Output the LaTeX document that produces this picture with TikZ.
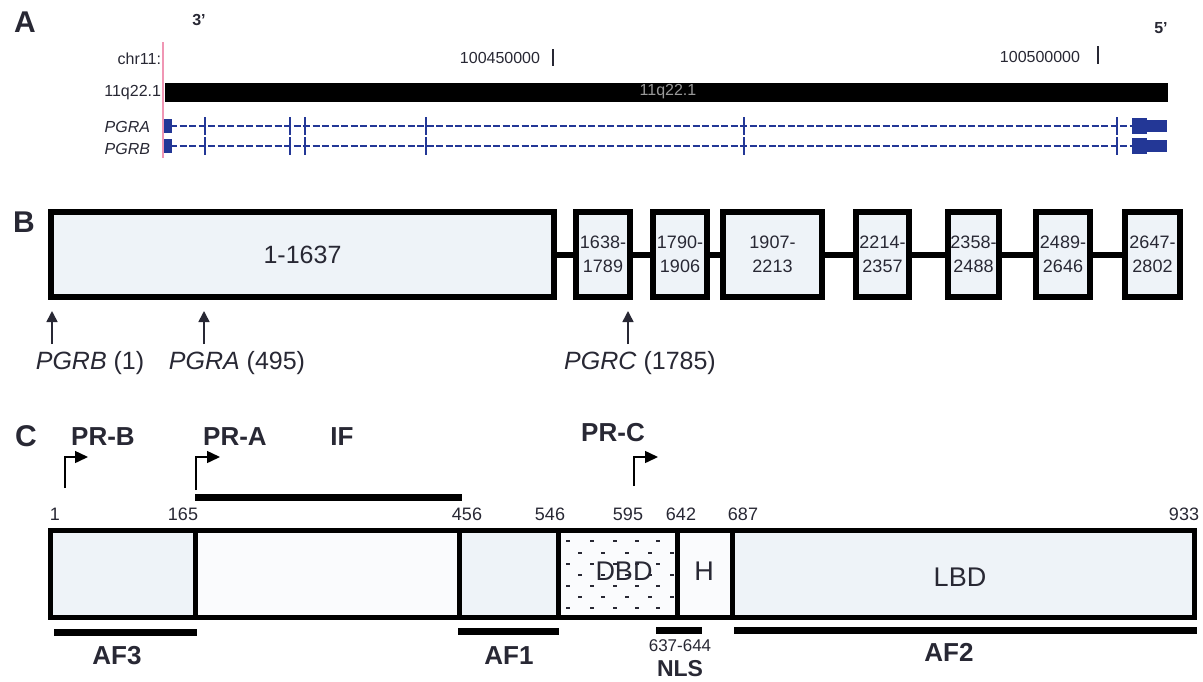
\documentclass[tikz,border=0pt]{standalone}
\usepackage{fontspec}
\setmainfont{Liberation Sans}
\usetikzlibrary{arrows.meta}
\definecolor{txt}{RGB}{40,40,52}
\definecolor{boxfill}{RGB}{238,243,248}
\definecolor{pale}{RGB}{250,251,253}
\definecolor{gblue}{RGB}{35,55,150}
\definecolor{pinkline}{RGB}{240,150,180}
\newcommand\myfs[1]{\fontsize{#1}{#1}\selectfont}
\tikzset{
  every node/.style={text=txt, inner sep=0pt, outer sep=0pt},
  panel/.style={font=\myfs{30}\bfseries},
  small/.style={font=\myfs{16}},
  exonbox/.style={draw=black, line width=6pt, fill=boxfill, minimum height=85pt, align=center, font=\fontsize{18}{24}\selectfont},
  seg/.style={draw=black, line width=5pt, minimum height=87pt, anchor=west},
  num/.style={font=\myfs{18}},
  bigb/.style={font=\myfs{26}\bfseries},
  bar/.style={line width=7pt, draw=black},
  uparrow/.style={line width=1.6pt, draw=txt, -{Triangle[length=11pt,width=11pt]}},
  bent/.style={line width=1.5pt, draw=black, -{Triangle[length=13pt,width=12pt]}},
  genetick/.style={gblue, line width=2.2pt},
  geneline/.style={gblue, line width=2pt, dash pattern=on 7pt off 2.5pt},
}
\begin{document}
\begin{tikzpicture}[x=1pt,y=-1pt]
\useasboundingbox[fill=white] (0,0) rectangle (1203,681);

% ---------------- Panel A ----------------
\node[panel] (A) at (25,22) {A};
\node[small, font=\myfs{16}\bfseries] (p3) at (199,20) {3'};
\node[small, font=\myfs{16}\bfseries] (p5) at (1161,28) {5'};
\node[small, anchor=east] (chr) at (161,59) {chr11:};
\node[small] (pos1) at (500,58) {100450000};
\node[small] (pos2) at (1040,57) {100500000};
\draw[line width=1.6pt, txt] (553,49) -- (553,66);
\draw[line width=1.6pt, txt] (1098,46) -- (1098,64);
\draw[pinkline, line width=1.2pt] (163,42) -- (163,158);
\node[fill=black, minimum width=1003pt, minimum height=19pt, anchor=west] (band) at (165,92.5) {};
\node[small, anchor=east] (bandlab) at (161,93) {11q22.1};
\node[small, text=gray!80] (bandin) at (668,92) {11q22.1};
\foreach \yy in {126,146}{
  \draw[geneline] (170,\yy) -- (1132,\yy);
  \foreach \xx in {205,290,305,426,744,1117}{
    \draw[genetick] (\xx,\yy-9) -- (\xx,\yy+9);
  }
  \fill[gblue] (164,\yy-7) rectangle (172,\yy+7);
  \fill[gblue] (1132,\yy-8) rectangle (1147,\yy+8);
  \fill[gblue] (1146,\yy-6) rectangle (1167,\yy+6);
}
\node[small, font=\myfs{16}\itshape, anchor=east] (lPGRA) at (150,127) {PGRA};
\node[small, font=\myfs{16}\itshape, anchor=east] (lPGRB) at (150,149) {PGRB};

% ---------------- Panel B ----------------
\node[panel] (B) at (24,222) {B};
\node[exonbox, minimum width=503pt, font=\myfs{25}] (e0) at (302.5,254.5) {1-1637};
\node[exonbox, minimum width=54pt] (e1) at (603,254.5) {1638-\\1789};
\node[exonbox, minimum width=54pt] (e2) at (680,254.5) {1790-\\1906};
\node[exonbox, minimum width=99pt] (e3) at (772.5,254.5) {1907-\\2213};
\node[exonbox, minimum width=53pt] (e4) at (882.5,254.5) {2214-\\2357};
\node[exonbox, minimum width=51pt] (e5) at (973.5,254.5) {2358-\\2488};
\node[exonbox, minimum width=54pt] (e6) at (1063,254.5) {2489-\\2646};
\node[exonbox, minimum width=55pt] (e7) at (1152.5,254.5) {2647-\\2802};
\foreach \a/\b in {e0/e1,e1/e2,e2/e3,e3/e4,e4/e5,e5/e6,e6/e7}{
  \draw[line width=6pt] (\a.east) -- (\b.west);
}
\node[font=\myfs{25}] (tPGRB) at (90,363) {\textit{PGRB} (1)};
\node[font=\myfs{25}] (tPGRA) at (237,363) {\textit{PGRA} (495)};
\node[font=\myfs{25}] (tPGRC) at (640,363) {\textit{PGRC} (1785)};
\coordinate (aB0) at (52,344); \coordinate (aB1) at (52,311);
\coordinate (aA0) at (204,344); \coordinate (aA1) at (204,311);
\coordinate (aC0) at (628,344); \coordinate (aC1) at (628,311);
\draw[uparrow] (aB0) -- (aB1);
\draw[uparrow] (aA0) -- (aA1);
\draw[uparrow] (aC0) -- (aC1);

% ---------------- Panel C ----------------
\node[panel] (C) at (26,436) {C};
\node[bigb] (PRB) at (103,437) {PR-B};
\node[bigb] (PRA) at (235,437) {PR-A};
\node[bigb] (IF) at (342,437) {IF};
\node[bigb] (PRC) at (613,433) {PR-C};
\coordinate (rB0) at (65,488); \coordinate (rB1) at (88,457);
\coordinate (rA0) at (196,490); \coordinate (rA1) at (220,457);
\coordinate (rC0) at (634,486); \coordinate (rC1) at (658,457);
\draw[bent] (rB0) |- (rB1);
\draw[bent] (rA0) |- (rA1);
\draw[bent] (rC0) |- (rC1);
\draw[bar] (195,497) -- (462,497);

\node[num] (n1) at (55,514) {1};
\node[num] (n165) at (183,514) {165};
\node[num] (n456) at (467,514) {456};
\node[num] (n546) at (550,514) {546};
\node[num] (n595) at (628,514) {595};
\node[num] (n642) at (681,514) {642};
\node[num] (n687) at (743,514) {687};
\node[num] (n933) at (1184,514) {933};

\node[seg, fill=boxfill, minimum width=144.5pt] (sAF3) at (50.5,574) {};
\node[seg, fill=pale, minimum width=264pt] (sIF) at (195,574) {};
\node[seg, fill=boxfill, minimum width=99pt] (sAF1) at (459,574) {};
\node[seg, fill=pale, minimum width=119pt] (sDBD) at (558,574) {};
\node[seg, fill=pale, minimum width=55pt] (sH) at (677,574) {};
\node[seg, fill=boxfill, minimum width=462.5pt] (sLBD) at (732,574) {};
% dotted pattern in DBD
\foreach \yy [count=\i] in {541,553,564,575,586,597,608}{
  \ifodd\i
    \foreach \xx in {568,592,615,637,658}{ \draw[line width=1.2pt, txt] (\xx-2,\yy) -- (\xx+2,\yy); }
  \else
    \foreach \xx in {580,603,627,650,672}{ \draw[line width=1.2pt, txt] (\xx-2,\yy) -- (\xx+2,\yy); }
  \fi
}
\node[font=\myfs{27}] (tDBD) at (624,571) {DBD};
\node[font=\myfs{27}] (tH) at (704,571) {H};
\node[font=\myfs{27}] (tLBD) at (960,577) {LBD};

\draw[bar] (54,632) -- (197,632);
\draw[bar] (458,631) -- (559,631);
\draw[bar] (656,630) -- (702,630);
\draw[bar] (734,630) -- (1197,630);
\node[bigb] (AF3) at (117,656) {AF3};
\node[bigb] (AF1) at (509,656) {AF1};
\node[font=\myfs{17}] (nls1) at (680,646) {637-644};
\node[bigb, font=\myfs{23}\bfseries] (NLS) at (680,669) {NLS};
\node[bigb] (AF2) at (949,652) {AF2};
\end{tikzpicture}
\end{document}
